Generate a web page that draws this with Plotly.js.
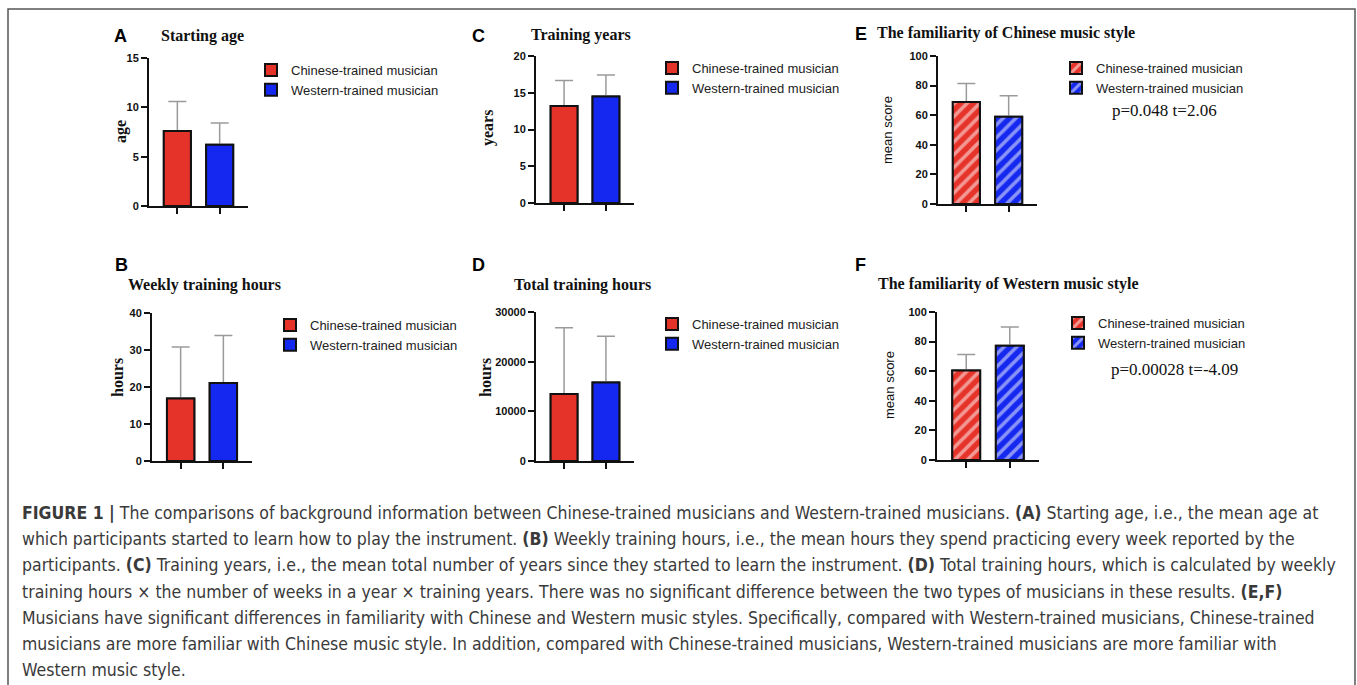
<!DOCTYPE html>
<html><head><meta charset="utf-8">
<script src="https://cdn.plot.ly/plotly-3.0.1.min.js"></script>
<style>html,body{margin:0;padding:0;background:#fff;} #chart{width:1357px;height:685px;}</style>
</head><body><div id="chart"></div>
<script>
// ---------- data ----------
const groups = ['Chinese-trained musician', 'Western-trained musician'];
const startAgeMean = [7.6, 6.2];
const startAgeSD = [3.0, 2.2];
const weeklyHoursMean = [16.9, 21.1];
const weeklyHoursSD = [13.9, 12.8];
const trainYearsMean = [13.2, 14.5];
const trainYearsSD = [3.45, 2.9];
const totalHoursMean = [13500, 15800];
const totalHoursSD = [13350, 9300];
const chineseFamMean = [68.9, 58.9];
const chineseFamSD = [12.6, 14.2];
const westernFamMean = [60.5, 77.2];
const westernFamSD = [10.8, 12.6];
const statsE = 'p=0.048 t=2.06';
const statsF = 'p=0.00028 t=-4.09';
const captionLines = [
 '<b>FIGURE 1 |</b> The comparisons of background information between Chinese-trained musicians and Western-trained musicians. <b>(A)</b> Starting age, i.e., the mean age at',
 'which participants started to learn how to play the instrument. <b>(B)</b> Weekly training hours, i.e., the mean hours they spend practicing every week reported by the',
 'participants. <b>(C)</b> Training years, i.e., the mean total number of years since they started to learn the instrument. <b>(D)</b> Total training hours, which is calculated by weekly',
 'training hours \u00d7 the number of weeks in a year \u00d7 training years. There was no significant difference between the two types of musicians in these results. <b>(E,F)</b>',
 'Musicians have significant differences in familiarity with Chinese and Western music styles. Specifically, compared with Western-trained musicians, Chinese-trained',
 'musicians are more familiar with Chinese music style. In addition, compared with Chinese-trained musicians, Western-trained musicians are more familiar with',
 'Western music style.'
];

// ---------- layout helpers ----------
const W = 1357, H = 685;
const fx = p => p / W;
const fy = p => 1 - p / H;
const RED = '#e6332a', BLUE = '#1428ef';
const colors = [RED, BLUE];
const SERIF = "'Liberation Serif', 'Times New Roman', serif";
const SANS = "'Liberation Sans', Arial, sans-serif";
const CAPF = "'Liberation Sans Narrow', 'DejaVu Sans Condensed', 'Liberation Sans', sans-serif";

const panels = [
 {letter:'A', title:'Starting age', yt:'age', ytSerif:true, mean:startAgeMean, sd:startAgeSD, range:[0,15], dtick:5, hatch:false,
  ax:[149,248], ay:[58,206], letterPos:[112,36], titlePos:[159,36], ytPos:[121,132], leg:[271,70]},
 {letter:'B', title:'Weekly training hours', yt:'hours', ytSerif:true, mean:weeklyHoursMean, sd:weeklyHoursSD, range:[0,40], dtick:10, hatch:false,
  ax:[152,252], ay:[313,461], letterPos:[113,265], titlePos:[126,285], ytPos:[117,378], leg:[290,325]},
 {letter:'C', title:'Training years', yt:'years', ytSerif:true, mean:trainYearsMean, sd:trainYearsSD, range:[0,20], dtick:5, hatch:false,
  ax:[536,634], ay:[56,203], letterPos:[470,36], titlePos:[529,35], ytPos:[488,128], leg:[672,68]},
 {letter:'D', title:'Total training hours', yt:'hours', ytSerif:true, mean:totalHoursMean, sd:totalHoursSD, range:[0,30000], dtick:10000, hatch:false,
  ax:[536,634], ay:[312,461], letterPos:[470,265], titlePos:[512,285], ytPos:[485,378], leg:[672,324]},
 {letter:'E', title:'The familiarity of Chinese music style', yt:'mean score', ytSerif:false, mean:chineseFamMean, sd:chineseFamSD, range:[0,100], dtick:20, hatch:true,
  ax:[938,1037], ay:[56,204], letterPos:[853,34], titlePos:[875,33], ytPos:[887,130], leg:[1076,68], stats:statsE, statsPos:[1110,111]},
 {letter:'F', title:'The familiarity of Western music style', yt:'mean score', ytSerif:false, mean:westernFamMean, sd:westernFamSD, range:[0,100], dtick:20, hatch:true,
  ax:[937,1039], ay:[312,460], letterPos:[853,265], titlePos:[876,284], ytPos:[889,385], leg:[1078,323], stats:statsF, statsPos:[1109,369]}
];

const data = [];
const overlays = [];
const layout = {
  width: W, height: H, margin:{l:0,r:0,t:0,b:0}, paper_bgcolor:'#fff', plot_bgcolor:'rgba(0,0,0,0)',
  barmode:'overlay', annotations:[], shapes:[], showlegend:true
};

panels.forEach((p, k) => {
  const n = k + 1;
  const xk = 'xaxis' + (n === 1 ? '' : n), yk = 'yaxis' + (n === 1 ? '' : n);
  const xr = 'x' + (n === 1 ? '' : n), yr = 'y' + (n === 1 ? '' : n);
  const lg = 'legend' + (n === 1 ? '' : n);
  groups.forEach((g, i) => {
    const marker = {color: colors[i], line:{color:'#111', width:2}};
    if (p.hatch) marker.pattern = {shape:'/', fillmode:'overlay', fgcolor:'#ffffff', size:9, solidity:0.4};
    data.push({
      type:'bar', name:g, x:[i], y:[p.mean[i]], width:0.64, xaxis:xr, yaxis:yr,
      legend:lg, showlegend:true, marker:marker,
      error_y:{type:'data', symmetric:false, array:[p.sd[i]], arrayminus:[0], color:'#9a9a9a', thickness:1.5, width:9},
      hoverinfo:'skip'
    });
    // same bar redrawn on top so its black outline covers the error bar's lower cap
    overlays.push({
      type:'bar', name:g, x:[i], y:[p.mean[i]], width:0.64, xaxis:xr, yaxis:yr,
      legend:lg, showlegend:false, marker:marker, hoverinfo:'skip'
    });
  });
  layout[xk] = {domain:[fx(p.ax[0]), fx(p.ax[1])], anchor:yr, range:[-0.67,1.67], tickvals:[0,1], showticklabels:false,
    showline:true, linecolor:'#111', linewidth:2, ticks:'outside', ticklen:6, tickwidth:2, tickcolor:'#111',
    showgrid:false, zeroline:false, fixedrange:true};
  layout[yk] = {domain:[fy(p.ay[1]), fy(p.ay[0])], anchor:xr, range:p.range, dtick:p.dtick, tick0:0, tickformat:'d',
    showline:true, linecolor:'#111', linewidth:2, ticks:'outside', ticklen:6, tickwidth:2, tickcolor:'#111',
    tickfont:{family:SANS, size:11, weight:'bold', color:'#111'},
    showgrid:false, zeroline:false, fixedrange:true};
  layout[lg] = {x:fx(p.leg[0] - 20), y:fy(p.leg[1] - 15), xanchor:'left', yanchor:'top', xref:'paper', yref:'paper',
    bgcolor:'rgba(0,0,0,0)', borderwidth:0, tracegroupgap:0, font:{family:SANS, size:13, color:'#222'}};
  layout.annotations.push(
    {text:'<b>' + p.letter + '</b>', x:fx(p.letterPos[0]), y:fy(p.letterPos[1]), xref:'paper', yref:'paper', xanchor:'left', yanchor:'middle', showarrow:false,
     font:{family:SANS, size:18, color:'#000'}},
    {text:'<b>' + p.title + '</b>', x:fx(p.titlePos[0]), y:fy(p.titlePos[1]), xref:'paper', yref:'paper', xanchor:'left', yanchor:'middle', showarrow:false,
     font:{family:SERIF, size:16, color:'#111'}},
    {text: p.ytSerif ? '<b>' + p.yt + '</b>' : p.yt, x:fx(p.ytPos[0]), y:fy(p.ytPos[1]), xref:'paper', yref:'paper', xanchor:'center', yanchor:'middle', showarrow:false, textangle:-90,
     font: p.ytSerif ? {family:SERIF, size:16, color:'#111'} : {family:SANS, size:13, color:'#111'}}
  );
  if (p.stats) layout.annotations.push({text:p.stats, x:fx(p.statsPos[0]), y:fy(p.statsPos[1]), xref:'paper', yref:'paper', xanchor:'left', yanchor:'middle', showarrow:false,
     font:{family:SERIF, size:17, color:'#111'}});
});

// caption: fit font size to the reference line width
function measureRich(str, size, family) {
  const c = document.createElement('canvas').getContext('2d');
  let total = 0;
  str.split(/(<b>.*?<\/b>)/).forEach(part => {
    if (!part) return;
    const bold = part.startsWith('<b>');
    c.font = (bold ? 'bold ' : '') + size + 'px ' + family;
    total += c.measureText(part.replace(/<\/?b>/g, '')).width;
  });
  return total;
}
const capSize = Math.min(20, 16 * 1314 / measureRich(captionLines[2], 16, CAPF));
captionLines.forEach((line, i) => {
  layout.annotations.push({text:line, x:fx(20), y:fy(513 + i * 26.2), xref:'paper', yref:'paper', xanchor:'left', yanchor:'middle', showarrow:false,
    align:'left', font:{family:CAPF, size:capSize, color:'#3a3a3a'}});
});

layout.shapes.push({type:'rect', xref:'paper', yref:'paper', x0:fx(8), x1:fx(1355), y0:-0.05, y1:fy(9), line:{color:'#555', width:1.5}, fillcolor:'rgba(0,0,0,0)'});

Plotly.newPlot('chart', data.concat(overlays), layout, {displayModeBar:false, staticPlot:true});
</script>
</body></html>
